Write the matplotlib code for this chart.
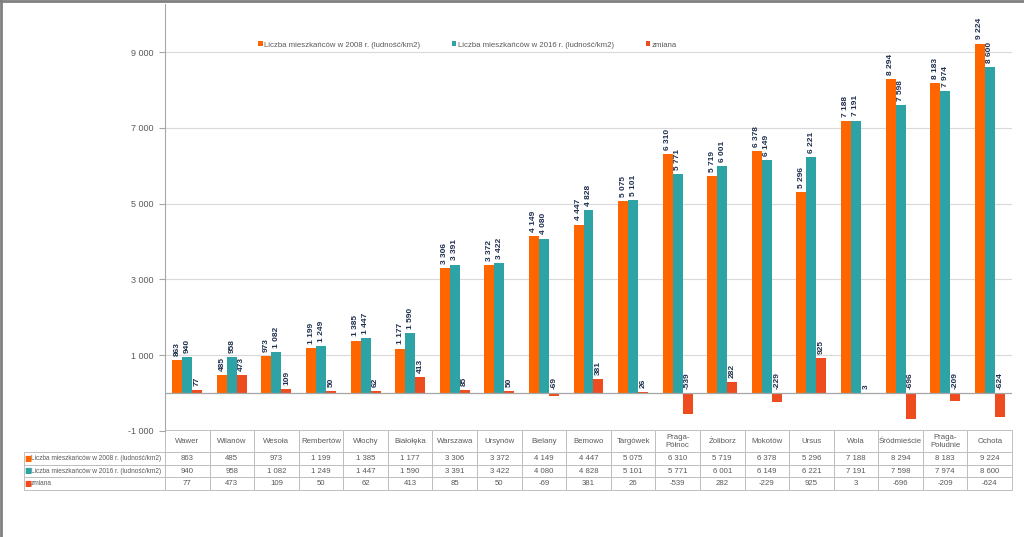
import matplotlib
matplotlib.use("Agg")
import matplotlib.pyplot as plt
import numpy as np
from matplotlib.lines import Line2D

categories = ["Wawer", "Wilanów", "Wesoła", "Rembertów", "Włochy", "Białołęka", "Warszawa",
              "Ursynów", "Bielany", "Bemowo", "Targówek", "Praga-\nPółnoc", "Żoliborz",
              "Mokotów", "Ursus", "Wola", "Śródmieście", "Praga-\nPołudnie", "Ochota"]
v2008 = [863, 485, 973, 1199, 1385, 1177, 3306, 3372, 4149, 4447, 5075, 6310, 5719,
         6378, 5296, 7188, 8294, 8183, 9224]
v2016 = [940, 958, 1082, 1249, 1447, 1590, 3391, 3422, 4080, 4828, 5101, 5771, 6001,
         6149, 6221, 7191, 7598, 7974, 8600]
zmiana = [77, 473, 109, 50, 62, 413, 85, 50, -69, 381, 26, -539, 282, -229, 925, 3,
          -696, -209, -624]
series_names = ["Liczba mieszkańców w 2008 r. (ludność/km2)",
                "Liczba mieszkańców w 2016 r. (ludność/km2)",
                "zmiana"]
yticks = [-1000, 1000, 3000, 5000, 7000, 9000]

colors = ["#FF6600", "#2EA3A6", "#EE4B1E"]
label_col = "#1F2F4F"
grey_txt = "#595959"

plt.rcParams['font.family'] = ['Liberation Sans Narrow', 'Liberation Sans', 'DejaVu Sans']

def fmt(v):
    s = f"{abs(v):,}".replace(",", " ")
    return ("-" if v < 0 else "") + s

W, H = 1024, 537
fig = plt.figure(figsize=(W / 100, H / 100), dpi=100)
ax_l, ax_r, ax_t, ax_b = 165, 1012, 4, 431
axw, axh = ax_r - ax_l, ax_b - ax_t
ax = fig.add_axes([ax_l / W, 1 - ax_b / H, axw / W, axh / H])

n = len(categories)
x = np.arange(n)
bw = 0.224
data = [v2008, v2016, zmiana]
for k, (vals, c) in enumerate(zip(data, colors)):
    xs = x + (k - 1) * bw
    ax.bar(xs, vals, width=bw, color=c, label=series_names[k], zorder=3)
    for xi, v in zip(xs, vals):
        ax.annotate(fmt(v), (xi, max(v, 0)), xytext=(0, 3), textcoords="offset points",
                    rotation=90, ha="center", va="bottom", fontsize=6,
                    fontweight="bold", color=label_col, zorder=4)

ax.set_xlim(-0.5, n - 0.5)
ax.set_ylim(-1000, 10270)
ax.set_yticks(yticks)
ax.set_yticklabels([fmt(t) for t in yticks], fontsize=6.5, color=grey_txt)
ax.tick_params(axis="y", length=4, color="#A6A6A6", pad=4)
ax.set_xticks([])
ax.grid(axis="y", color="#D9D9D9", lw=0.8, zorder=0)
ax.axhline(0, color="#A6A6A6", lw=0.9, zorder=3)
for s in ["top", "right", "bottom"]:
    ax.spines[s].set_visible(False)
ax.spines["left"].set_color("#A6A6A6")

leg = ax.legend(loc="center left", bbox_to_anchor=((254 - ax_l) / axw, (ax_b - 45) / axh),
                ncol=3, frameon=False, borderpad=0,
                fontsize=5.6, handlelength=0.6, handleheight=0.6, handletextpad=0.2,
                columnspacing=4.05, labelcolor=grey_txt)

# data table
cell_text = [[name] + [fmt(v) for v in vals] for name, vals in zip(series_names, data)]
tbl_left, tbl_top, tbl_bot = 24, 430, 490
bbox = [(tbl_left - ax_l) / axw, -(tbl_bot - ax_b) / axh,
        (ax_r - tbl_left) / axw, (tbl_bot - tbl_top) / axh]
col_w = (ax_r - ax_l) / n
col_widths = [141 / axw] + [col_w / axw] * n
tbl = ax.table(cellText=cell_text, colLabels=[""] + categories, colWidths=col_widths,
               cellLoc="center", bbox=bbox)
tbl.auto_set_font_size(False)
tbl.set_fontsize(5.6)
for (r, c), cell in tbl.get_celld().items():
    cell.set_edgecolor("#BFBFBF")
    cell.set_facecolor("none")
    cell.set_linewidth(0.7)
    cell.get_text().set_color(grey_txt)
    cell.set_height((22 if r == 0 else 12.5) / axh)
    if c == 0:
        if r == 0:
            cell.visible_edges = "open"
        else:
            cell._loc = "left"
            cell.get_text().set_horizontalalignment("left")
            cell.get_text().set_fontsize(4.7)
            cell.PAD = 0.05

# legend keys in table row labels
row_centers = [458, 470.5, 483.5]
for yc, c in zip(row_centers, colors):
    ax.text((tbl_left + 4 - ax_l) / axw, (ax_b - yc) / axh, "■", color=c,
            fontsize=5.5, ha="center", va="center", transform=ax.transAxes,
            family="DejaVu Sans")

# figure border (top and left)
fig.add_artist(Line2D([0, 1], [1 - 1 / H, 1 - 1 / H], transform=fig.transFigure,
                      color="#808080", lw=2))
fig.add_artist(Line2D([1 / W, 1 / W], [0, 1], transform=fig.transFigure,
                      color="#808080", lw=2))

fig.savefig("out.png", dpi=100)
